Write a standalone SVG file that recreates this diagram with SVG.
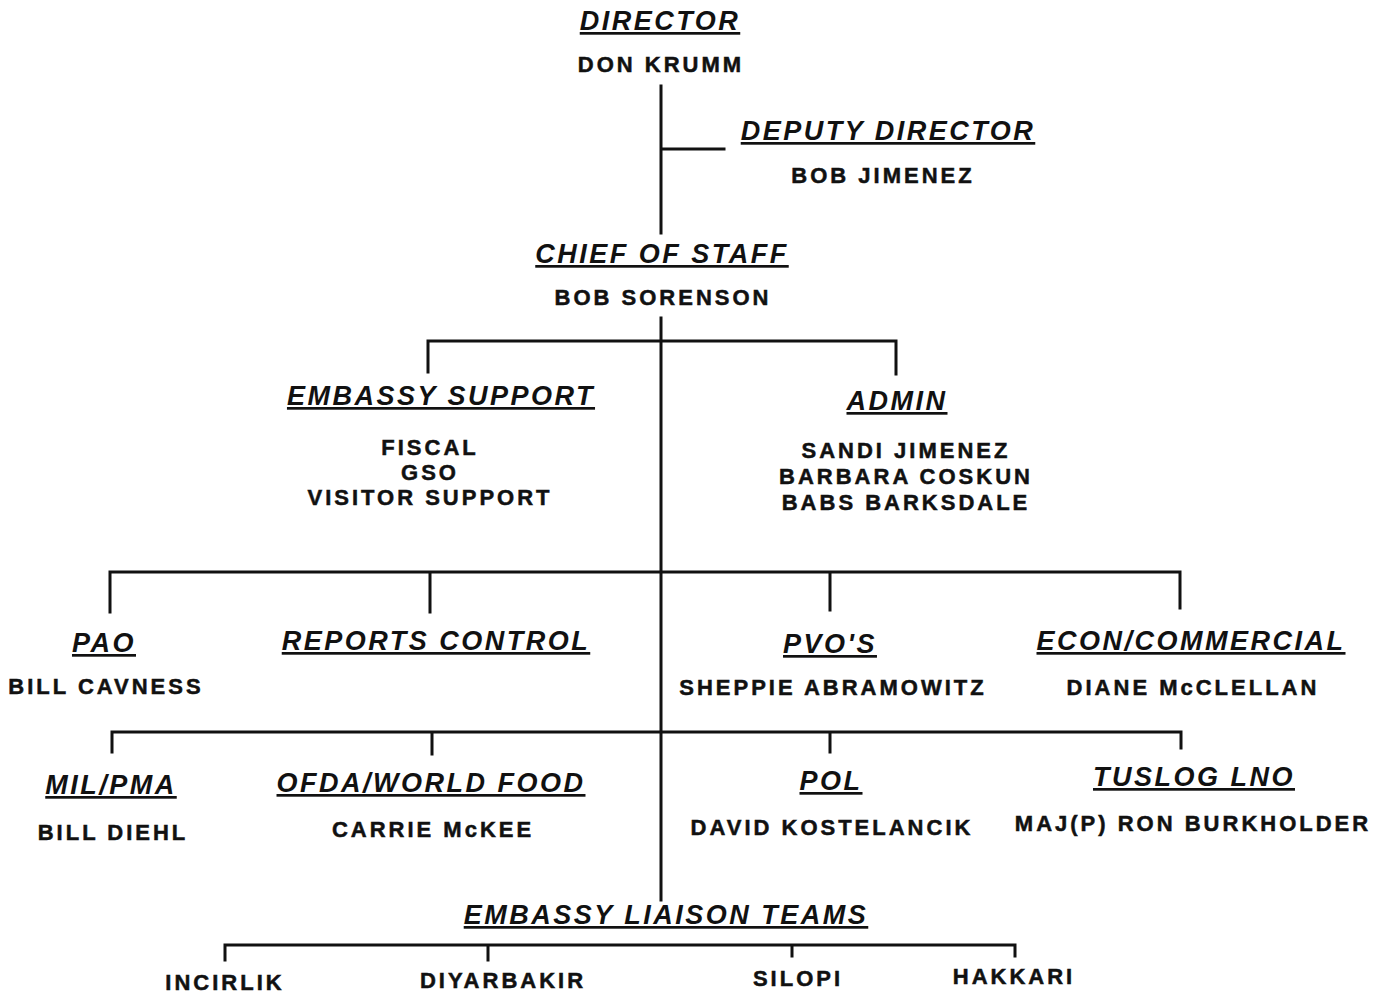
<svg xmlns="http://www.w3.org/2000/svg" width="1389" height="996" viewBox="0 0 1389 996">
<style>
.h{font-family:"Liberation Sans",Arial,sans-serif;font-weight:bold;font-style:italic;font-size:27px;letter-spacing:2.5px;text-anchor:middle;text-decoration:underline;fill:#111}
.n{font-family:"Liberation Sans",Arial,sans-serif;font-weight:bold;font-size:22px;letter-spacing:3px;text-anchor:middle;fill:#111;stroke:#111;stroke-width:0.5}
.c{fill:none;stroke:#111;stroke-width:3;stroke-linecap:square}
</style>
<rect width="1389" height="996" fill="#fff"/>
<g id="connectors" class="c">
<path d="M661 86V233M661 149H724"/>
<path d="M661 318V900"/>
<path d="M428 372V341H896V374"/>
<path d="M110 612V572H1180V608M430 572V612M830 572V610"/>
<path d="M112 752V732H1181V748M432 732V754M830 732V752"/>
<path d="M225 960V945H1015V956M488 945V960M792 945V956"/>
</g>
<g id="director"><text class="h" x="660" y="30">DIRECTOR</text><text class="n" x="661" y="72">DON KRUMM</text></g>
<g id="deputy"><text class="h" x="888" y="140">DEPUTY DIRECTOR</text><text class="n" x="883" y="183">BOB JIMENEZ</text></g>
<g id="chief"><text class="h" x="662" y="263">CHIEF OF STAFF</text><text class="n" x="663" y="305">BOB SORENSON</text></g>
<g id="embassy-support"><text class="h" x="441" y="405">EMBASSY SUPPORT</text><text class="n" x="430" y="455">FISCAL</text><text class="n" x="430" y="480">GSO</text><text class="n" x="430" y="505">VISITOR SUPPORT</text></g>
<g id="admin"><text class="h" x="897" y="410">ADMIN</text><text class="n" x="906" y="458">SANDI JIMENEZ</text><text class="n" x="906" y="484">BARBARA COSKUN</text><text class="n" x="906" y="510">BABS BARKSDALE</text></g>
<g id="pao"><text class="h" x="104" y="652">PAO</text><text class="n" x="106" y="694">BILL CAVNESS</text></g>
<g id="reports"><text class="h" x="436" y="650">REPORTS CONTROL</text></g>
<g id="pvos"><text class="h" x="830" y="653">PVO'S</text><text class="n" x="833" y="695">SHEPPIE ABRAMOWITZ</text></g>
<g id="econ"><text class="h" x="1191" y="650">ECON/COMMERCIAL</text><text class="n" x="1193" y="695">DIANE McCLELLAN</text></g>
<g id="milpma"><text class="h" x="111" y="794">MIL/PMA</text><text class="n" x="113" y="840">BILL DIEHL</text></g>
<g id="ofda"><text class="h" x="431" y="792">OFDA/WORLD FOOD</text><text class="n" x="433" y="837">CARRIE McKEE</text></g>
<g id="pol"><text class="h" x="831" y="790">POL</text><text class="n" x="832" y="835">DAVID KOSTELANCIK</text></g>
<g id="tuslog"><text class="h" x="1194" y="786">TUSLOG LNO</text><text class="n" x="1193" y="831">MAJ(P) RON BURKHOLDER</text></g>
<g id="liaison"><text class="h" x="666" y="924">EMBASSY LIAISON TEAMS</text></g>
<g id="incirlik"><text class="n" x="225" y="990">INCIRLIK</text></g>
<g id="diyarbakir"><text class="n" x="503" y="988">DIYARBAKIR</text></g>
<g id="silopi"><text class="n" x="798" y="986">SILOPI</text></g>
<g id="hakkari"><text class="n" x="1014" y="984">HAKKARI</text></g>
</svg>
